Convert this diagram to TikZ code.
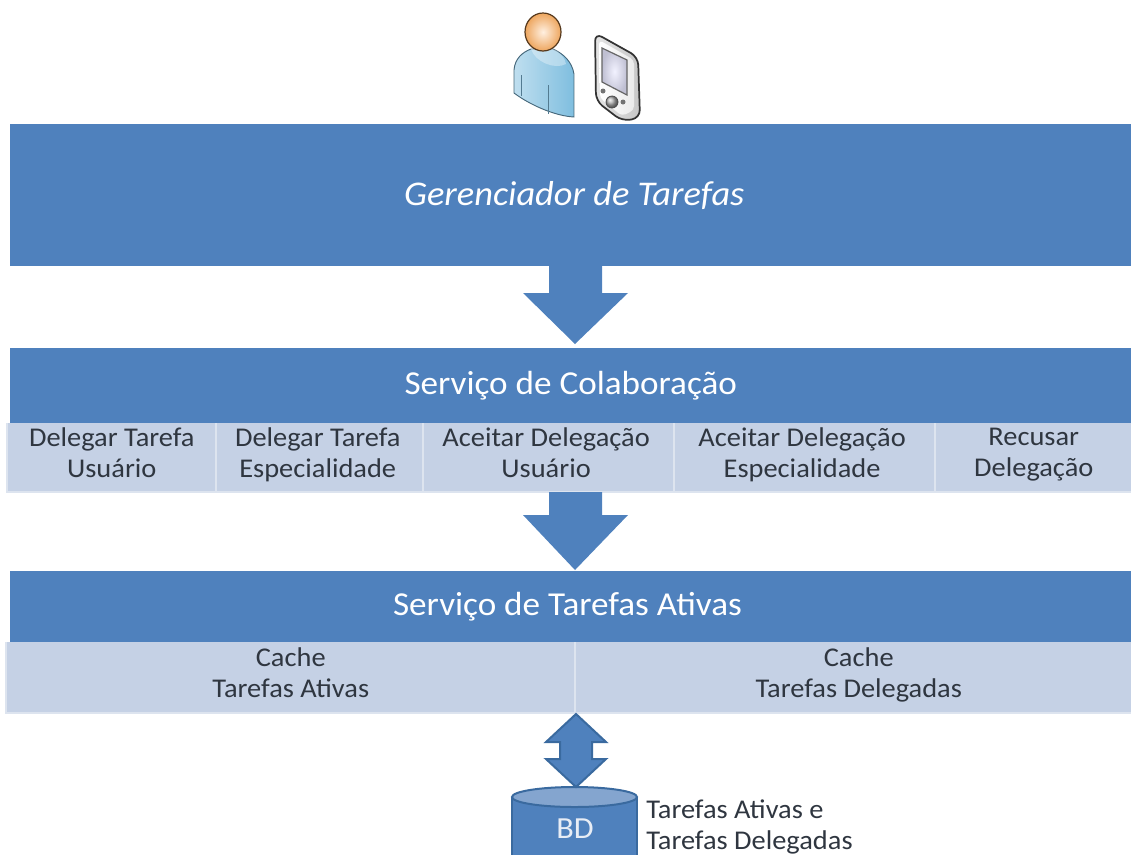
\documentclass[tikz,border=0pt]{standalone}
\usepackage{fontspec}
\setmainfont[FakeStretch=1.05]{Carlito}
\usetikzlibrary{calc}
\definecolor{bandblue}{HTML}{4F81BD}
\definecolor{cellblue}{HTML}{C5D1E5}
\definecolor{cellgap}{HTML}{DDE4EF}
\definecolor{edgeblue}{HTML}{3A6A9F}
\definecolor{textdark}{HTML}{2F3640}
\definecolor{bodyblue}{HTML}{7FBEDF}
\tikzset{
  band/.style={fill=bandblue,draw=none,inner sep=0pt,text=white,font=\fontsize{25.1}{28}\selectfont,anchor=north west},
  cell/.style={fill=cellblue,draw=none,inner sep=0pt,align=center,text=textdark,font=\fontsize{20.3}{23.3}\selectfont,anchor=north west,execute at begin node={\rule[-0.3\baselineskip]{0pt}{\dimexpr0.7\baselineskip+6pt\relax}},execute at end node=\strut},
  blockarrow/.style={fill=bandblue,draw=none},
  dbarrow/.style={fill=bandblue,draw=edgeblue,line width=1.5pt,line join=miter},
  dbline/.style={fill=bandblue,draw=edgeblue,line width=1.5pt},
}
\newcommand{\nudge}[1]{\hspace*{#1}}
\begin{document}
\begin{tikzpicture}[x=0.75pt,y=-0.75pt]
\useasboundingbox (0,0) rectangle (1131,854);
% pale backing behind the cells
\fill[cellgap] (6,423) rectangle (1131,493);
\fill[cellgap] (5,642) rectangle (1131,714);
% bands
\node[band,minimum width=1121*0.75pt,minimum height=142*0.75pt,font=\fontsize{26}{28}\selectfont\itshape] (gt) at (10,124) {\nudge{5.2pt}Gerenciador de Tarefas};
\node[band,minimum width=1121*0.75pt,minimum height=75*0.75pt] (sc) at (10,348) {Serviço de Colaboração};
\node[band,minimum width=1121*0.75pt,minimum height=71*0.75pt] (st) at (10,571) {\nudge{-5pt}Serviço de Tarefas Ativas};
% collaboration cells
\node[cell,minimum width=207*0.75pt,minimum height=68*0.75pt] (c1) at (8,423) {Delegar Tarefa\\Usuário};
\node[cell,minimum width=205*0.75pt,minimum height=68*0.75pt] (c2) at (217,423) {\nudge{-3pt}Delegar Tarefa\\\nudge{-3pt}Especialidade};
\node[cell,minimum width=249*0.75pt,minimum height=68*0.75pt] (c3) at (424,423) {\nudge{-4pt}Aceitar Delegação\\\nudge{-4pt}Usuário};
\node[cell,minimum width=259*0.75pt,minimum height=68*0.75pt] (c4) at (675,423) {\nudge{-4pt}Aceitar Delegação\\\nudge{-4pt}Especialidade};
\node[cell,minimum width=195*0.75pt,minimum height=68*0.75pt] (c5) at (936,423) {Recusar\\Delegação};
% cache cells
\node[cell,minimum width=567*0.75pt,minimum height=70*0.75pt] (a1) at (7,642) {Cache\\Tarefas Ativas};
\node[cell,minimum width=555*0.75pt,minimum height=70*0.75pt] (a2) at (576,642) {\nudge{7.5pt}Cache\\\nudge{7.5pt}Tarefas Delegadas};
% arrows
\fill[blockarrow] (549,266) -- (602,266) -- (602,293) -- (628,293) -- (575,344) -- (523,293) -- (549,293) -- cycle;
\fill[blockarrow] (549,492) -- (602,492) -- (602,515) -- (628,515) -- (575,570) -- (523,515) -- (549,515) -- cycle;
% database
\draw[dbline] (512,797) -- (512,860) -- (637,860) -- (637,797);
\fill[bandblue!55!cellblue,draw=edgeblue,line width=1.5pt] (574.5,797) ellipse [x radius=62.5,y radius=10];
\node[text=cellblue!40!white,font=\fontsize{23}{26}\selectfont,inner sep=0pt] (bd) at (575,829) {BD};
\draw[dbarrow] (576,714) -- (606,742) -- (592,742) -- (592,759) -- (606,759) -- (576,787) -- (546,759) -- (560,759) -- (560,742) -- (546,742) -- cycle;
\node[inner sep=0pt,anchor=north west,align=left,text=textdark,font=\fontsize{20.3}{23.3}\selectfont] (lbl) at (646,796) {\strut Tarefas Ativas e\\\strut Tarefas Delegadas};
% person
\shade[left color=bodyblue!50!white,right color=bodyblue,draw=black!45!bodyblue,line width=.7pt]
 (514,70) .. controls (515,58) and (523,52) .. (531,49) -- (553,49) .. controls (564,54) and (572,62) .. (574,74) -- (574,117) .. controls (555,116) and (530,105) .. (514,93) -- cycle;
\draw[black!35!bodyblue,line width=.7pt] (521,75) -- (521,96) (548,85) -- (548,114);
\path[fill=white,fill opacity=.35] (531,49) -- (553,49) .. controls (560,52) and (565,58) .. (566,64) .. controls (555,70) and (535,62) .. (531,49) -- cycle;
\shade[inner color=orange!12!white,outer color=orange!60!brown!70!white,draw=black!55!brown,line width=.9pt] (543,32) ellipse [x radius=18,y radius=19];
% pda
\shade[left color=black!10,right color=black!22,draw=black!80,line width=1.3pt,rounded corners=6pt]
 (595,33) -- (638,57) -- (640,118) -- (622,121) -- (596,101) -- cycle;
\shade[left color=white,right color=black!8,rounded corners=3pt] (599,40) -- (634,60) -- (634,110) -- (622,116) -- (600,98) -- cycle;
\shade[inner color=blue!5!white,outer color=blue!30!black!25,draw=black!60,line width=.9pt] (602,48) -- (627,60) -- (627,95) -- (602,82) -- cycle;
\shade[ball color=black!30,draw=black!70,line width=.6pt] (612,102) circle (6);
\fill[black!55] (603,91) circle (2.5) (623,102) circle (2.5);
\end{tikzpicture}
\end{document}
